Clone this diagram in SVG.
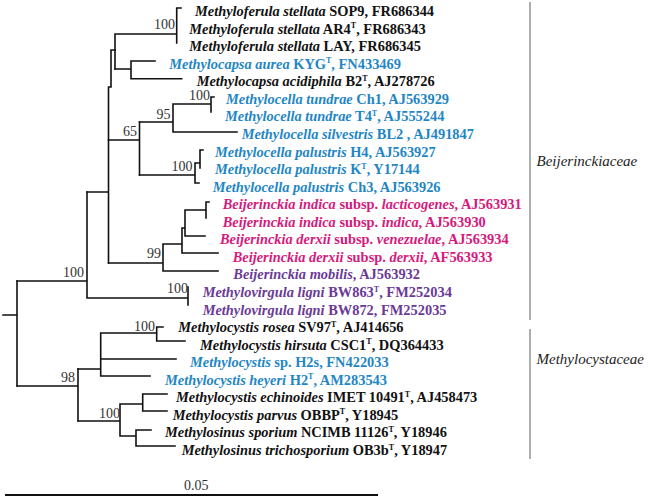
<svg xmlns="http://www.w3.org/2000/svg" width="650" height="499" viewBox="0 0 650 499">
<style>
.bg{fill:#ffffff}
.br{fill:none;stroke:#111;stroke-width:1.6;stroke-linecap:square}
.bar{fill:none;stroke:#9a9a9a;stroke-width:1.6}
.scale{fill:none;stroke:#111;stroke-width:2}
.lf{font-family:"Liberation Serif","Times New Roman",serif;font-size:14.4px;font-weight:bold}
.i{font-style:italic}
.sup{font-size:8px}
.k{fill:#111}
.b{fill:#1f86c5}
.p{fill:#d6197c}
.v{fill:#6b3a96}
.bs{font-family:"Liberation Serif","Times New Roman",serif;font-size:14px;fill:#333}
.fam{font-family:"Liberation Serif","Times New Roman",serif;font-size:15px;font-style:italic;fill:#222}
</style>
<rect class="bg" x="0" y="0" width="650" height="499"/>
<g id="connectors">
<path class="br" d="M3,315H17M17,281V386"/>
<path class="br" d="M17,281H87M87,192V298M87,298H188M188,287V305"/>
<path class="br" d="M87,192H108.5M108.5,87V263M108.5,87H111M111,50V87M111,50H115"/>
<path class="br" d="M115,34V69M115,34H176.7M176.7,8V43M176.7,8H181"/>
<path class="br" d="M115,69H131M131,61V78.7M131,61H155M131,78.7H181.7"/>
<path class="br" d="M108.5,140H139.5M139.5,122V175"/>
<path class="br" d="M139.5,122H173M173,104V132M173,104H211M211,97V112M211,97H214M173,132H237"/>
<path class="br" d="M139.5,175H195M195,163V183M195,183H199M195,163H200M200,150V168M200,150H203"/>
<path class="br" d="M108.5,263H163M163,244V271M163,271H218M163,244H182M182,228V253M182,253H218M182,228H185M185,210V236M185,236H205M185,210H206M206,202V218M206,202H209"/>
<path class="br" d="M17,386H78M78,369V421"/>
<path class="br" d="M78,369H100.7M100.7,333V376M100.7,333H156.7M156.7,327V341M156.7,327H163M156.7,341H185M100.7,359H176M100.7,376H150"/>
<path class="br" d="M78,421H120M120,404V436M120,404H142.7M142.7,394V411M142.7,394H167M142.7,411H167M120,436H136M136,430V446M136,430H151M136,446H175"/>
</g>
<g id="bootstrap">
<text class="bs" x="154" y="29">100</text>
<text class="bs" x="123" y="136">65</text>
<text class="bs" x="156.5" y="119">95</text>
<text class="bs" x="189" y="100">100</text>
<text class="bs" x="171.5" y="171">100</text>
<text class="bs" x="147" y="258">99</text>
<text class="bs" x="63" y="277">100</text>
<text class="bs" x="167" y="293">100</text>
<text class="bs" x="61" y="382">98</text>
<text class="bs" x="134" y="331">100</text>
<text class="bs" x="99" y="418">100</text>
</g>
<g id="n0"><text class="lf k" x="195" y="16"><tspan class="i">Methyloferula stellata</tspan> SOP9, FR686344</text></g>
<g id="n1"><text class="lf k" x="189.3" y="33.6"><tspan class="i">Methyloferula stellata</tspan> AR4<tspan class="sup" dy="-5.5">T</tspan><tspan dy="5.5">, FR686343</tspan></text></g>
<g id="n2"><text class="lf k" x="189.3" y="51.1"><tspan class="i">Methyloferula stellata</tspan> LAY, FR686345</text></g>
<g id="n3"><text class="lf b" x="169.3" y="68.7"><tspan class="i">Methylocapsa aurea</tspan> KYG<tspan class="sup" dy="-5.5">T</tspan><tspan dy="5.5">, FN433469</tspan></text></g>
<g id="n4"><text class="lf k" x="196.7" y="86.2"><tspan class="i">Methylocapsa acidiphila</tspan> B2<tspan class="sup" dy="-5.5">T</tspan><tspan dy="5.5">, AJ278726</tspan></text></g>
<g id="n5"><text class="lf b" x="226" y="103.8"><tspan class="i">Methylocella tundrae</tspan> Ch1, AJ563929</text></g>
<g id="n6"><text class="lf b" x="225" y="121.4"><tspan class="i">Methylocella tundrae</tspan> T4<tspan class="sup" dy="-5.5">T</tspan><tspan dy="5.5">, AJ555244</tspan></text></g>
<g id="n7"><text class="lf b" x="241.7" y="138.9"><tspan class="i">Methylocella silvestris</tspan> BL2 , AJ491847</text></g>
<g id="n8"><text class="lf b" x="215" y="156.5"><tspan class="i">Methylocella palustris</tspan> H4, AJ563927</text></g>
<g id="n9"><text class="lf b" x="215" y="174"><tspan class="i">Methylocella palustris</tspan> K<tspan class="sup" dy="-5.5">T</tspan><tspan dy="5.5">, Y17144</tspan></text></g>
<g id="n10"><text class="lf b" x="212.7" y="191.6"><tspan class="i">Methylocella palustris</tspan> Ch3, AJ563926</text></g>
<g id="n11"><text class="lf p" x="222.7" y="209.2"><tspan class="i">Beijerinckia indica</tspan> subsp. <tspan class="i">lacticogenes</tspan>, AJ563931</text></g>
<g id="n12"><text class="lf p" x="222.7" y="226.7"><tspan class="i">Beijerinckia indica</tspan> subsp. <tspan class="i">indica</tspan>, AJ563930</text></g>
<g id="n13"><text class="lf p" x="220" y="244.3"><tspan class="i">Beijerinckia derxii</tspan> subsp. <tspan class="i">venezuelae</tspan>, AJ563934</text></g>
<g id="n14"><text class="lf p" x="232.7" y="261.8"><tspan class="i">Beijerinckia derxii</tspan> subsp. <tspan class="i">derxii</tspan>, AF563933</text></g>
<g id="n15"><text class="lf v" x="233.3" y="279.4"><tspan class="i">Beijerinckia mobilis</tspan>, AJ563932</text></g>
<g id="n16"><text class="lf v" x="202.7" y="297"><tspan class="i">Methylovirgula ligni</tspan> BW863<tspan class="sup" dy="-5.5">T</tspan><tspan dy="5.5">, FM252034</tspan></text></g>
<g id="n17"><text class="lf v" x="202.7" y="314.5"><tspan class="i">Methylovirgula ligni</tspan> BW872, FM252035</text></g>
<g id="n18"><text class="lf k" x="178.3" y="332.1"><tspan class="i">Methylocystis rosea</tspan> SV97<tspan class="sup" dy="-5.5">T</tspan><tspan dy="5.5">, AJ414656</tspan></text></g>
<g id="n19"><text class="lf k" x="200" y="349.6"><tspan class="i">Methylocystis hirsuta</tspan> CSC1<tspan class="sup" dy="-5.5">T</tspan><tspan dy="5.5">, DQ364433</tspan></text></g>
<g id="n20"><text class="lf b" x="190" y="367.2"><tspan class="i">Methylocystis</tspan> sp. H2s, FN422033</text></g>
<g id="n21"><text class="lf b" x="165" y="384.8"><tspan class="i">Methylocystis heyeri</tspan> H2<tspan class="sup" dy="-5.5">T</tspan><tspan dy="5.5">, AM283543</tspan></text></g>
<g id="n22"><text class="lf k" x="176" y="402.3"><tspan class="i">Methylocystis echinoides</tspan> IMET 10491<tspan class="sup" dy="-5.5">T</tspan><tspan dy="5.5">, AJ458473</tspan></text></g>
<g id="n23"><text class="lf k" x="172.7" y="419.9"><tspan class="i">Methylocystis parvus</tspan> OBBP<tspan class="sup" dy="-5.5">T</tspan><tspan dy="5.5">, Y18945</tspan></text></g>
<g id="n24"><text class="lf k" x="165" y="437.4"><tspan class="i">Methylosinus sporium</tspan> NCIMB 11126<tspan class="sup" dy="-5.5">T</tspan><tspan dy="5.5">, Y18946</tspan></text></g>
<g id="n25"><text class="lf k" x="181.7" y="455"><tspan class="i">Methylosinus trichosporium</tspan> OB3b<tspan class="sup" dy="-5.5">T</tspan><tspan dy="5.5">, Y18947</tspan></text></g>
<g id="fam-beij"><line class="bar" x1="530" y1="2" x2="530" y2="320"/><text class="fam" x="536.5" y="166">Beijerinckiaceae</text></g>
<g id="fam-mcys"><line class="bar" x1="530" y1="329" x2="530" y2="459"/><text class="fam" x="536.5" y="364">Methylocystaceae</text></g>
<g id="scalebar"><line class="scale" x1="5" y1="495" x2="378" y2="495"/><text class="bs" x="184" y="490">0.05</text></g>
</svg>
